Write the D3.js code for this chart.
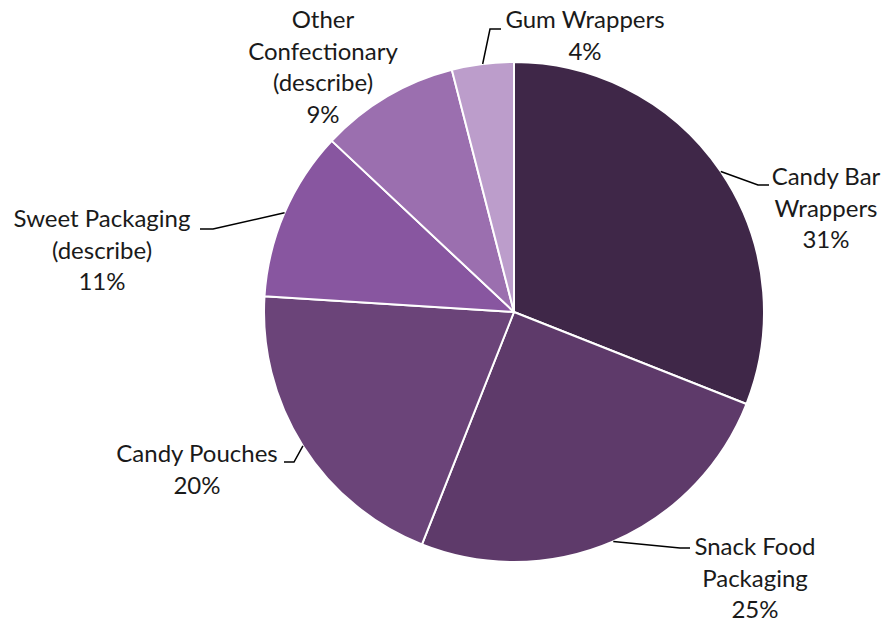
<!DOCTYPE html>
<html><head><meta charset="utf-8">
<script src="https://cdn.jsdelivr.net/npm/d3@7/dist/d3.min.js"></script>
<style>body{margin:0;background:#fff}svg{display:block}</style>
</head><body>
<svg id="c" width="886" height="624"></svg>
<script>
const categories = ["Candy Bar Wrappers","Snack Food Packaging","Candy Pouches","Sweet Packaging (describe)","Other Confectionary (describe)","Gum Wrappers"];
const values = [31, 25, 20, 11, 9, 4];
const labelLines = [["Candy Bar","Wrappers","31%"],["Snack Food","Packaging","25%"],["Candy Pouches","20%"],["Sweet Packaging","(describe)","11%"],["Other","Confectionary","(describe)","9%"],["Gum Wrappers","4%"]];
const colors = ["#3f2748","#5e3a6a","#6b4479","#8856a0","#9b6faf","#bc9dcb"];
// layout: label text centre x, first baseline y, leader elbow & end (null = no leader)
const layout = [
  {x:826, y:185, elbow:[758,185], end:[769,185]},
  {x:755, y:555, elbow:[680,548], end:[690,548]},
  {x:197, y:462, elbow:[294,462], end:[284,462]},
  {x:102, y:227, elbow:[213,229], end:[200,229]},
  {x:323, y:28,  elbow:null, end:null},
  {x:585, y:28,  elbow:[490,29], end:[501,29]}
];
const cx = 514, cy = 312, R = 250, lh = 31.5;
const svg = d3.select("#c");
const g = svg.append("g").attr("transform", `translate(${cx},${cy})`);
const pie = d3.pie().sort(null).value(d => d)(values);
const arc = d3.arc().innerRadius(0).outerRadius(R);
g.selectAll("path").data(pie).join("path")
  .attr("d", arc).attr("fill", (d,i) => colors[i])
  .attr("stroke", "#fff").attr("stroke-width", 2).attr("stroke-linejoin","round");
// leaders
pie.forEach((d,i) => {
  const L = layout[i];
  if (!L.elbow) return;
  const a = (d.startAngle + d.endAngle)/2;
  const sx = cx + R*Math.sin(a), sy = cy - R*Math.cos(a);
  svg.append("polyline")
    .attr("points", [[sx,sy], L.elbow, L.end].map(p=>p.join(",")).join(" "))
    .attr("fill","none").attr("stroke","#000").attr("stroke-width",1.5);
});
// labels
labelLines.forEach((lines,i) => {
  const L = layout[i];
  const t = svg.append("text").attr("text-anchor","middle")
    .attr("font-family","Lato, 'Open Sans', sans-serif").attr("font-size",24).attr("fill","#1a1a1a");
  lines.forEach((s,k) => t.append("tspan").attr("x",L.x).attr("y",L.y + k*lh).text(s));
});
</script>
</body></html>
